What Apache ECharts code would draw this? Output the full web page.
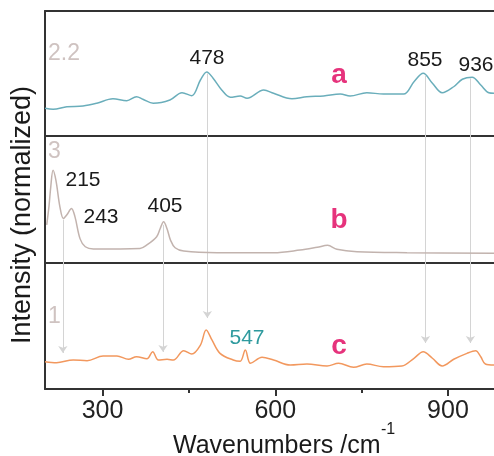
<!DOCTYPE html>
<html><head><meta charset="utf-8">
<script src="https://cdn.jsdelivr.net/npm/echarts@6/dist/echarts.min.js"></script>
<style>html,body{margin:0;padding:0;background:#fff}#c{width:494px;height:456px}</style>
</head><body><div id="c"></div>
<script>
// Spectrum a (teal)
const aX = [200,214,238,266,290,318,342,359,370,388,417,438,455,470,481,492,507,522,539,551,580,597,629,655,684,713,730,759,788,823,841,857,873,890,910,925,942,957,971,980];
const aY = [22.2,21.4,23.4,24,26.2,29.8,28.2,31.4,29.4,26.2,28.8,34.6,32.2,44.8,51.2,46.2,36.8,31,32,30.2,36.8,34.2,29.8,31.4,32,33.6,32,34.6,33.6,33.6,43.4,50.2,42.2,34.6,39.4,45.4,47,40.8,34.6,34.2];
// Spectrum b (grey)
const bX = [203,207,210,214,219,226,232,238,246,252,261,270,284,365,377,394,400,406,412,418,426,441,499,557,597,643,673,691,707,742,829,980];
const bY = [30,45,60,73,65,44,35,38,43,36.5,19,12.8,11,11.5,14.2,20.7,27,32.5,27,18,12,9.4,8.1,8.1,8.1,10.2,12.4,13.9,10.8,8.9,8.1,7.6];
// Spectrum c (orange)
const cX = [200,220,249,273,301,325,345,359,377,387,397,412,423,441,455,470,480,490,504,527,539,548,557,577,597,626,655,690,710,736,759,788,820,841,857,873,890,910,933,948,957,965,980];
const cY = [21.7,20.9,23,22.5,26.2,26.2,23.6,25.6,24,29.6,23,23.6,23,30.4,27.8,34.9,46.8,38.9,28.3,23,22,31,20.4,25.2,23,19,19.8,18.3,20.4,17.2,19.8,17.7,18.3,24.4,29.6,24.4,18.3,23.6,28.3,30.4,25.6,19.8,19];
// Guide lines (wavenumber positions)
const guideA = [[482,50],[861,48],[939,46]];
const guideB = [[231,34],[405,30],[482,100],[861,100],[939,100]];
const guideC = [[231,28.6],[405,29.4],[482,56.3],[861,36.5],[939,36.5]];
// Tick values
const tickMajor = [300,600,900];
const tickMinor = [450,750];

const pairs = (xs, ys) => xs.map((x, i) => [x, ys[i]]);
const AX = '#333';
const FONT = '"Liberation Sans", Arial, Helvetica, sans-serif';
const xMin = 200, xMax = 980;

function xAx(grid, pos, opts) {
  return Object.assign({
    type: 'value', gridIndex: grid, min: xMin, max: xMax, position: pos,
    axisLine: {show: true, onZero: false, lineStyle: {color: AX, width: 2}},
    axisTick: {show: false}, axisLabel: {show: false}, splitLine: {show: false}
  }, opts || {});
}
function yAx(grid) {
  return {type: 'value', gridIndex: grid, min: 0, max: 100,
    axisLine: {show: true, lineStyle: {color: AX, width: 2}},
    axisTick: {show: false}, axisLabel: {show: false}, splitLine: {show: false}};
}
const guideStyle = {color: '#d4d4d4', width: 1, type: 'solid'};
function series(xi, yi, data, color, marks, arrow) {
  return {
    type: 'line', xAxisIndex: xi, yAxisIndex: yi, data: data, showSymbol: false,
    smooth: 0.35, lineStyle: {color: color, width: 1.5}, itemStyle: {color: color},
    silent: true, z: 3,
    markLine: {
      silent: true, animation: false, symbol: arrow ? ['none', 'arrow'] : ['none', 'none'],
      symbolSize: 7, lineStyle: guideStyle, itemStyle: {color: '#c8c8c8'}, label: {show: false}, z: 1,
      data: marks
    }
  };
}

const chart = echarts.init(document.getElementById('c'));
const txt = (x, y, s, size, color, extra) => ({type: 'text', x: x, y: y, z: 10,
  style: Object.assign({text: s, fontSize: size, fill: color, fontFamily: FONT,
  textAlign: 'center', textVerticalAlign: 'middle', verticalAlign: 'middle', align: 'center'}, extra || {})});

chart.setOption({
  animation: false,
  backgroundColor: '#fff',
  grid: [
    {left: 45, right: 0, top: 11, height: 125},
    {left: 45, right: 0, top: 136, height: 127},
    {left: 45, right: 0, top: 263, height: 126}
  ],
  xAxis: [
    xAx(0, 'top'), xAx(1, 'top'), xAx(2, 'top'),
    xAx(2, 'bottom', {
      axisTick: {show: true, customValues: tickMajor, length: 7, lineStyle: {color: AX, width: 2}},
      axisLabel: {show: true, customValues: tickMajor, fontSize: 25, color: '#222', fontFamily: FONT, margin: 10}
    }),
    xAx(2, 'bottom', {
      axisLine: {show: false},
      axisTick: {show: true, customValues: tickMinor, length: 4, lineStyle: {color: AX, width: 2}}
    })
  ],
  yAxis: [yAx(0), yAx(1), yAx(2)],
  series: [
    series(0, 0, pairs(aX, aY), '#6aaebb', guideA.map(g => [{coord: [g[0], g[1]]}, {coord: [g[0], 0]}]), false),
    series(1, 1, pairs(bX, bY), '#c2b3ae', guideB.map(g => [{coord: [g[0], g[1]]}, {coord: [g[0], 0]}]), false),
    series(2, 2, pairs(cX, cY), '#f2985e', guideC.map(g => [{coord: [g[0], 100]}, {coord: [g[0], g[1]]}]), true)
  ],
  graphic: [
    txt(48, 54, '2.2', 23, '#cfc3c1', {textAlign: 'left', align: 'left'}),
    txt(207, 58, '478', 21, '#1a1a1a'),
    txt(339, 75, 'a', 28, '#e6337c', {fontWeight: 'bold'}),
    txt(425, 60, '855', 21, '#1a1a1a'),
    txt(476, 65, '936', 21, '#1a1a1a'),
    txt(48, 152, '3', 23, '#cfc3c1', {textAlign: 'left', align: 'left'}),
    txt(83, 180, '215', 21, '#1a1a1a'),
    txt(101, 217, '243', 21, '#1a1a1a'),
    txt(165, 206, '405', 21, '#1a1a1a'),
    txt(339, 220, 'b', 28, '#e6337c', {fontWeight: 'bold'}),
    txt(48, 317, '1', 23, '#cfc3c1', {textAlign: 'left', align: 'left'}),
    txt(247, 338, '547', 21, '#2e9a9e'),
    txt(339, 346, 'c', 28, '#e6337c', {fontWeight: 'bold'}),
    txt(173, 446, 'Wavenumbers /cm', 25, '#1a1a1a', {textAlign: 'left', align: 'left'}),
    txt(381, 430, '-1', 16, '#1a1a1a', {textAlign: 'left', align: 'left'}),
    {type: 'text', x: 23, y: 215, rotation: Math.PI / 2, z: 10,
     style: {text: 'Intensity (normalized)', fontSize: 27, fill: '#1a1a1a', fontFamily: FONT,
             textAlign: 'center', textVerticalAlign: 'middle', verticalAlign: 'middle', align: 'center'}}
  ]
});
</script></body></html>
